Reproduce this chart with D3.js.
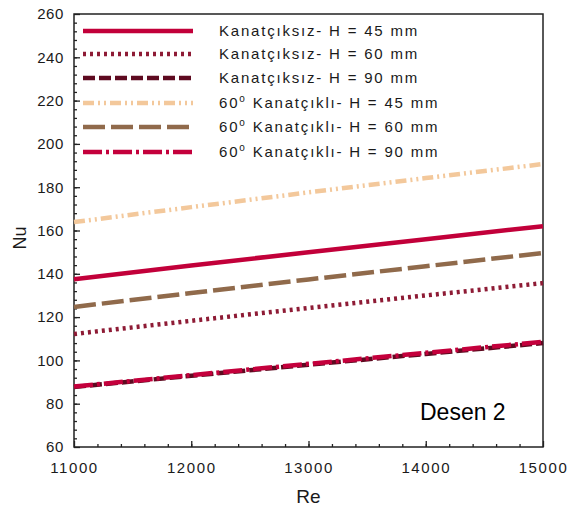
<!DOCTYPE html>
<html>
<head>
<meta charset="utf-8">
<script src="https://cdn.jsdelivr.net/npm/d3@7"></script>
<style>
  body{margin:0;background:#fff;}
  text{font-family:"Liberation Sans",Arial,sans-serif;}
</style>
</head>
<body>
<div id="chart"></div>
<script>
var reValues = [11000, 12000, 13000, 14000, 15000];
var seriesNames = ["Kanatçıksız- H = 45 mm", "Kanatçıksız- H = 60 mm", "Kanatçıksız- H = 90 mm",
                   "Kanatçıklı- H = 45 mm", "Kanatçıklı- H = 60 mm", "Kanatçıklı- H = 90 mm"];
var k45 = [137.5, 143.8, 150.0, 156.0, 162.0];
var k60 = [112.2, 118.3, 124.2, 130.0, 135.7];
var k90 = [87.7, 92.9, 98.0, 103.0, 108.0];
var f45 = [163.9, 170.8, 177.6, 184.2, 190.7];
var f60 = [124.7, 131.1, 137.4, 143.5, 149.6];
var f90 = [87.9, 93.2, 98.4, 103.5, 108.6];
var xTicks = [11000, 12000, 13000, 14000, 15000];
var yTicks = [60, 80, 100, 120, 140, 160, 180, 200, 220, 240, 260];

var allSeries = [k45, k60, k90, f45, f60, f90];
var colors = ["#c2003a", "#8e1b35", "#5e0a20", "#f3c89b", "#906a4b", "#c4003c"];
var dashes = [null, "3,4", "12,4", "11,4,2,4,2,4", "22,6", "19,4,3,4"];
var legendPrefix = [false, false, false, true, true, true];

var margin = {left:74, top:14, right:25, bottom:65};
var width = 543 - 74, height = 447 - 14;

var svg = d3.select("#chart").append("svg")
  .attr("width", 568).attr("height", 512)
  .append("g")
  .attr("transform", "translate(" + margin.left + "," + margin.top + ")");

var x = d3.scaleLinear().domain([11000, 15000]).range([0, width]);
var y = d3.scaleLinear().domain([60, 260]).range([height, 0]);

// minor ticks
svg.append("g")
  .attr("transform", "translate(0," + height + ")")
  .call(d3.axisTop(x).tickValues(d3.range(11200, 15000, 200)).tickSize(3).tickFormat(""))
  .call(g => g.select(".domain").remove());
svg.append("g")
  .call(d3.axisRight(y).tickValues(d3.range(64, 260, 4)).tickSize(3).tickFormat(""))
  .call(g => g.select(".domain").remove());

// major ticks + labels
var xAxis = svg.append("g")
  .attr("transform", "translate(0," + height + ")")
  .call(d3.axisBottom(x).tickValues(xTicks).tickSize(0).tickPadding(15).tickFormat(d3.format("d")));
xAxis.select(".domain").remove();
xAxis.selectAll("text").attr("font-size", 15).attr("fill", "#1a1a1a")
  .attr("letter-spacing", 1.6).style("font-family", "Liberation Sans, Arial");
svg.append("g")
  .attr("transform", "translate(0," + height + ")")
  .call(d3.axisTop(x).tickValues(xTicks).tickSize(6).tickFormat(""))
  .call(g => g.select(".domain").remove());

var yAxis = svg.append("g")
  .call(d3.axisLeft(y).tickValues(yTicks).tickSize(0).tickPadding(10));
yAxis.select(".domain").remove();
yAxis.selectAll("text").attr("font-size", 15).attr("fill", "#1a1a1a")
  .attr("letter-spacing", 0.6).style("font-family", "Liberation Sans, Arial");
svg.append("g")
  .call(d3.axisRight(y).tickValues(yTicks).tickSize(6).tickFormat(""))
  .call(g => g.select(".domain").remove());

svg.selectAll(".tick line").attr("stroke", "#222").attr("stroke-width", 1.3);

// frame
svg.append("rect").attr("width", width).attr("height", height)
  .attr("fill", "none").attr("stroke", "#222").attr("stroke-width", 1.5);

var line = d3.line().x((d, i) => x(reValues[i])).y(d => y(d));

svg.append("g").selectAll("path")
  .data(allSeries)
  .enter()
  .append("path")
  .attr("d", d => line(d))
  .attr("fill", "none")
  .attr("stroke", (d, i) => colors[i])
  .attr("stroke-width", 4.5)
  .attr("stroke-dasharray", (d, i) => dashes[i]);

// legend
var legendY = [31, 54, 78, 103, 127, 152];
var legend = svg.append("g").selectAll("g")
  .data(seriesNames)
  .enter()
  .append("g")
  .attr("transform", (d, i) => "translate(0," + (legendY[i] - margin.top) + ")");
legend.append("line")
  .attr("x1", 83 - margin.left).attr("x2", 193 - margin.left)
  .attr("y1", 0).attr("y2", 0)
  .attr("stroke", (d, i) => colors[i])
  .attr("stroke-width", 4.5)
  .attr("stroke-dasharray", (d, i) => dashes[i]);
var lt = legend.append("text")
  .attr("x", 219 - margin.left)
  .attr("y", 5)
  .attr("font-size", 15)
  .attr("letter-spacing", 1.8)
  .attr("fill", "#1a1a1a");
lt.filter((d, i) => legendPrefix[i]).each(function(d) {
  var t = d3.select(this);
  t.append("tspan").text("60");
  t.append("tspan").attr("dy", -6).attr("font-size", 10).text("o");
  t.append("tspan").attr("dy", 6).text(" " + d);
});
lt.filter((d, i) => !legendPrefix[i]).text(d => d);

// axis titles
svg.append("text")
  .attr("x", width / 2).attr("y", height + 56)
  .attr("text-anchor", "middle").attr("font-size", 19).attr("fill", "#1a1a1a")
  .text("Re");
svg.append("text")
  .attr("transform", "translate(" + (-48) + "," + (238 - margin.top) + ") rotate(-90)")
  .attr("text-anchor", "middle").attr("font-size", 18).attr("fill", "#1a1a1a")
  .text("Nu");

svg.append("text")
  .attr("x", 420 - margin.left).attr("y", 420 - margin.top)
  .attr("font-size", 23).attr("fill", "#000")
  .text("Desen 2");
</script>
</body>
</html>
